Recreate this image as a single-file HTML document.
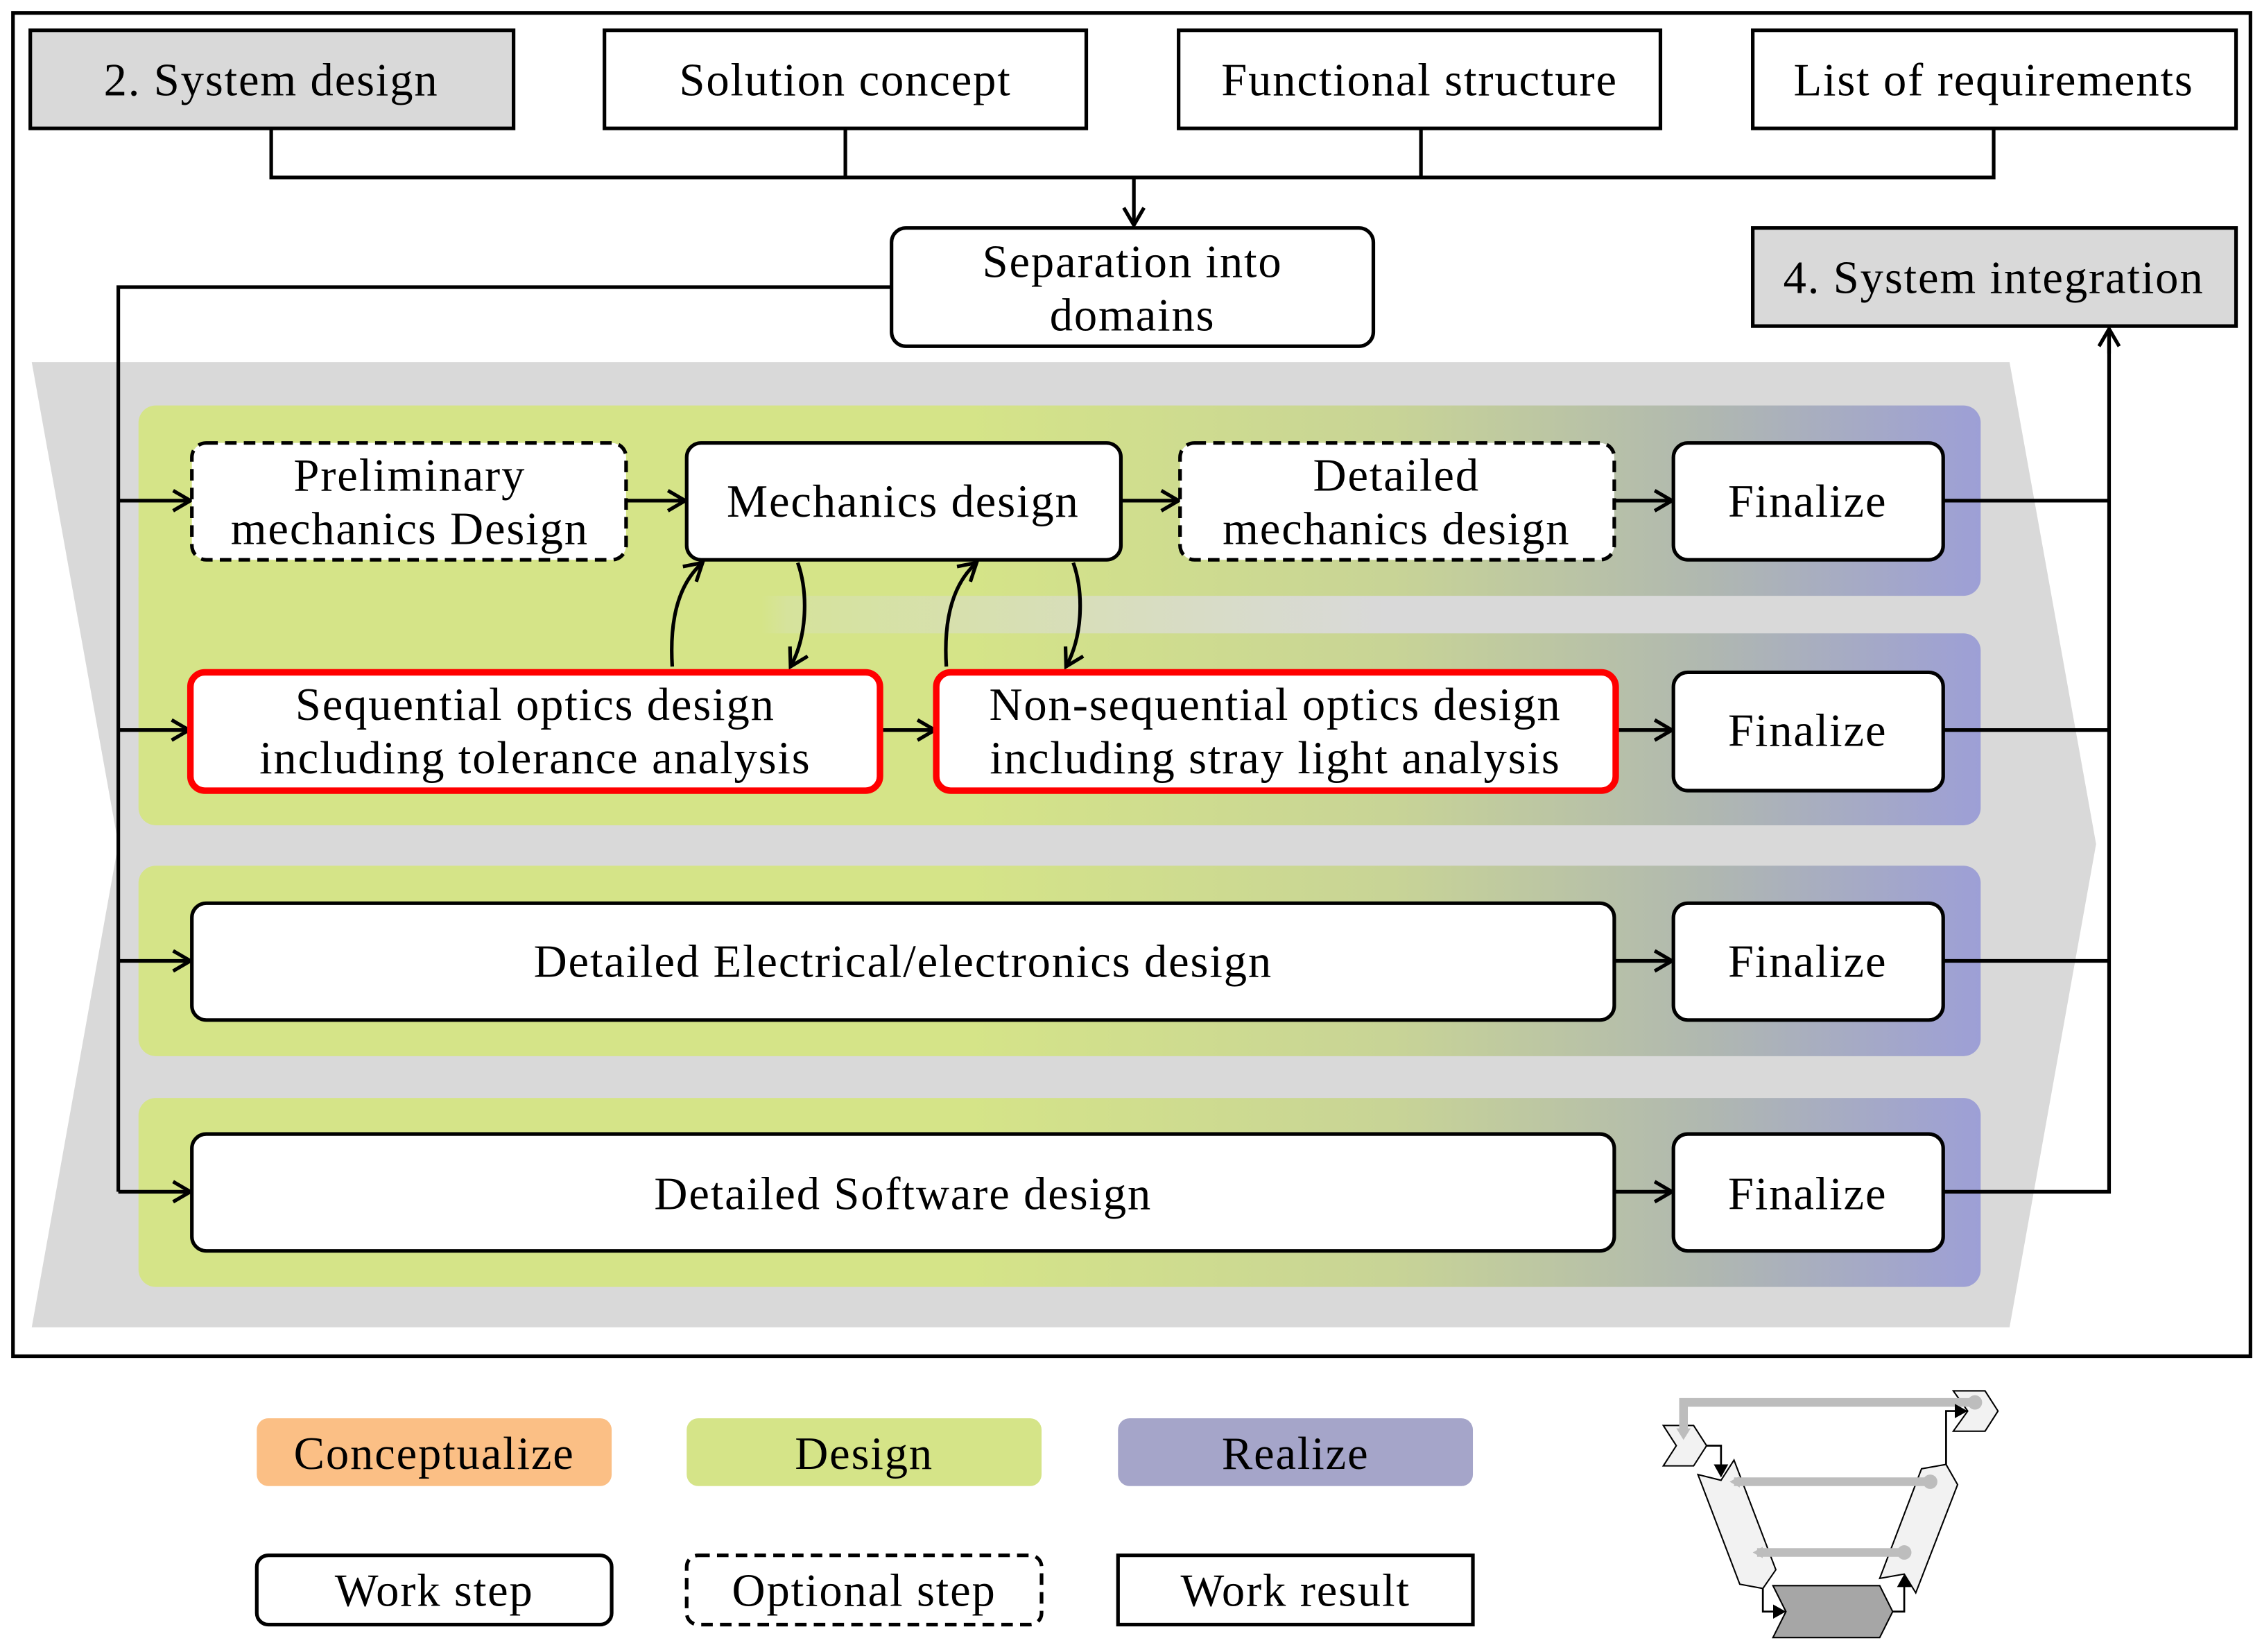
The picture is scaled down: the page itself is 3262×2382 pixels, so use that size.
<!DOCTYPE html>
<html><head><meta charset="utf-8"><style>html,body{margin:0;padding:0;background:#fff}svg{display:block}</style></head>
<body>
<svg width="3262" height="2382" viewBox="0 0 1568 1145" xmlns="http://www.w3.org/2000/svg" font-family="'Liberation Serif', serif" font-size="32" letter-spacing="0.9">
<defs>
<linearGradient id="lg" x1="96" x2="1373" y1="0" y2="0" gradientUnits="userSpaceOnUse">
<stop offset="0" stop-color="#d5e488"/><stop offset="0.45" stop-color="#d5e488"/><stop offset="0.68" stop-color="#c8d496"/><stop offset="0.85" stop-color="#b0b8b0"/><stop offset="1" stop-color="#9d9fd6"/>
</linearGradient>
<linearGradient id="mid" x1="96" x2="960" y1="0" y2="0" gradientUnits="userSpaceOnUse">
<stop offset="0" stop-color="#d5e488"/><stop offset="0.5" stop-color="#d5e488"/><stop offset="0.52" stop-color="#d6e39c"/><stop offset="1" stop-color="#d9d9d9"/>
</linearGradient>
<marker id="a" markerWidth="16" markerHeight="18" refX="13" refY="8" orient="auto" markerUnits="userSpaceOnUse"><path d="M1,1 L13,8 L1,15" fill="none" stroke="#000" stroke-width="2.5"/></marker>
<marker id="b" markerWidth="10" markerHeight="10" refX="8" refY="5" orient="auto" markerUnits="userSpaceOnUse"><path d="M0,0 L9,5 L0,10 Z" fill="#000"/></marker>
<marker id="g" markerWidth="8" markerHeight="8" refX="4" refY="4" orient="auto" markerUnits="userSpaceOnUse"><path d="M0,0 L7,4 L0,8 Z" fill="#bdbdbd"/></marker>
</defs>
<rect x="9" y="9" width="1551" height="931" fill="#fff" stroke="#000" stroke-width="2.5"/>
<g stroke="#000" stroke-width="2.5">
<rect x="21" y="21" width="335" height="68" fill="#d9d9d9"/>
<rect x="419" y="21" width="334" height="68" fill="#fff"/>
<rect x="817" y="21" width="334" height="68" fill="#fff"/>
<rect x="1215" y="21" width="335" height="68" fill="#fff"/>
<rect x="1215" y="158" width="335" height="68" fill="#d9d9d9"/>
<path d="M188,89 V123 H1382 V89 M586,89 V123 M985,89 V123" fill="none"/>
<path d="M786,123 V156" fill="none" marker-end="url(#a)"/>
<rect x="618" y="158" width="334" height="82" rx="10" fill="#fff"/>
</g>
<polygon points="22,251 1393,251 1453,585 1393,920 22,920 82,585" fill="#d9d9d9"/>
<rect x="96" y="400" width="864" height="50" fill="url(#mid)"/>
<rect x="96" y="281" width="1277" height="132" rx="12" fill="url(#lg)"/>
<rect x="96" y="439" width="1277" height="133" rx="12" fill="url(#lg)"/>
<rect x="96" y="600" width="1277" height="132" rx="12" fill="url(#lg)"/>
<rect x="96" y="761" width="1277" height="131" rx="12" fill="url(#lg)"/>
<g fill="none" stroke="#000" stroke-width="2.5">
<path d="M618,199 H82 V826"/>
<path d="M82,347 H132" marker-end="url(#a)"/><path d="M82,506 H131" marker-end="url(#a)"/>
<path d="M82,666 H132" marker-end="url(#a)"/><path d="M82,826 H132" marker-end="url(#a)"/>
<path d="M435,347 H475" marker-end="url(#a)"/><path d="M778,347 H817" marker-end="url(#a)"/>
<path d="M1120,347 H1159" marker-end="url(#a)"/><path d="M610,506 H648" marker-end="url(#a)"/>
<path d="M1121,506 H1159" marker-end="url(#a)"/><path d="M1120,666 H1159" marker-end="url(#a)"/>
<path d="M1120,826 H1159" marker-end="url(#a)"/>
<path d="M1347,347 H1462 M1347,506 H1462 M1347,666 H1462 M1347,826 H1462 V230"/>
<path d="M1462,245 V228" marker-end="url(#a)"/>
<path d="M466,462 C464,430 470,405 487,390" marker-end="url(#a)"/>
<path d="M553,390 C560,410 560,440 548,462" marker-end="url(#a)"/>
<path d="M656,462 C654,430 660,405 677,390" marker-end="url(#a)"/>
<path d="M744,390 C751,410 751,440 739,462" marker-end="url(#a)"/>
</g>
<g stroke="#000" stroke-width="2.5" fill="#fff">
<rect x="133" y="307" width="301" height="81" rx="10" stroke-dasharray="8,5"/>
<rect x="476" y="307" width="301" height="81" rx="10"/>
<rect x="818" y="307" width="301" height="81" rx="10" stroke-dasharray="8,5"/>
<rect x="1160" y="307" width="187" height="81" rx="10"/>
<rect x="132" y="466" width="478" height="82" rx="10" stroke="#ff0000" stroke-width="4.5"/>
<rect x="649" y="466" width="471" height="82" rx="10" stroke="#ff0000" stroke-width="4.5"/>
<rect x="1160" y="466" width="187" height="82" rx="10"/>
<rect x="133" y="626" width="986" height="81" rx="10"/>
<rect x="1160" y="626" width="187" height="81" rx="10"/>
<rect x="133" y="786" width="986" height="81" rx="10"/>
<rect x="1160" y="786" width="187" height="81" rx="10"/>
</g>
<g text-anchor="middle" fill="#000">
<text x="188" y="66">2. System design</text>
<text x="586" y="66">Solution concept</text>
<text x="984" y="66">Functional structure</text>
<text x="1382" y="66">List of requirements</text>
<text x="785" y="192">Separation into</text><text x="785" y="229">domains</text>
<text x="1382" y="203">4. System integration</text>
<text x="284" y="340">Preliminary</text><text x="284" y="377">mechanics Design</text>
<text x="626" y="358">Mechanics design</text>
<text x="968" y="340">Detailed</text><text x="968" y="377">mechanics design</text>
<text x="1253" y="358">Finalize</text>
<text x="371" y="499">Sequential optics design</text><text x="371" y="536">including tolerance analysis</text>
<text x="884" y="499">Non-sequential optics design</text><text x="884" y="536">including stray light analysis</text>
<text x="1253" y="517">Finalize</text>
<text x="626" y="677">Detailed Electrical/electronics design</text>
<text x="1253" y="677">Finalize</text>
<text x="626" y="838">Detailed Software design</text>
<text x="1253" y="838">Finalize</text>
</g>
<rect x="178" y="983" width="246" height="47" rx="8" fill="#fbbf85"/>
<rect x="476" y="983" width="246" height="47" rx="8" fill="#d5e488"/>
<rect x="775" y="983" width="246" height="47" rx="8" fill="#a5a5c9"/>
<g stroke="#000" stroke-width="2.5" fill="#fff">
<rect x="178" y="1078" width="246" height="48" rx="8"/>
<rect x="476" y="1078" width="246" height="48" rx="8" stroke-dasharray="8,5"/>
<rect x="775" y="1078" width="246" height="48"/>
</g>
<g text-anchor="middle">
<text x="301" y="1018">Conceptualize</text><text x="599" y="1018">Design</text><text x="898" y="1018">Realize</text>
<text x="301" y="1113">Work step</text><text x="599" y="1113">Optional step</text><text x="898" y="1113">Work result</text>
</g>
<g stroke="#000" stroke-width="1">
<polygon points="1153,988 1174,988 1183,1002 1174,1016 1153,1016 1162,1002" fill="#f2f2f2"/>
<polygon points="1354,964 1376,964 1385,978 1376,992 1354,992 1364,978" fill="#f2f2f2"/>
<polygon points="1177,1022 1193,1026 1202,1012 1231,1088 1222,1101 1206,1098" fill="#f2f2f2"/>
<polygon points="1303,1094 1320,1091 1328,1104 1357,1029 1349,1015 1332,1018" fill="#f2f2f2"/>
<polygon points="1229,1099 1303,1099 1312,1117 1303,1135 1229,1135 1238,1117" fill="#a6a6a6"/>
</g>
<g stroke="#bdbdbd" stroke-width="6" fill="none">
<path d="M1167,993 V972 H1369"/>
<path d="M1338,1027 H1202" marker-end="url(#g)"/>
<path d="M1320,1076 H1218" marker-end="url(#g)"/>
</g>
<g fill="#bdbdbd"><circle cx="1369" cy="972" r="5"/><circle cx="1338" cy="1027" r="5"/><circle cx="1320" cy="1076" r="5"/><path d="M1162,990 L1172,990 L1167,998Z"/></g>
<g fill="none" stroke="#000" stroke-width="1.3">
<path d="M1183,1002 H1193 V1023" marker-end="url(#b)"/>
<path d="M1222,1101 V1117 H1237" marker-end="url(#b)"/>
<path d="M1312,1117 H1320 V1092" marker-end="url(#b)"/>
<path d="M1349,1015 V978 H1363" marker-end="url(#b)"/>
</g>
</svg>
</body></html>
